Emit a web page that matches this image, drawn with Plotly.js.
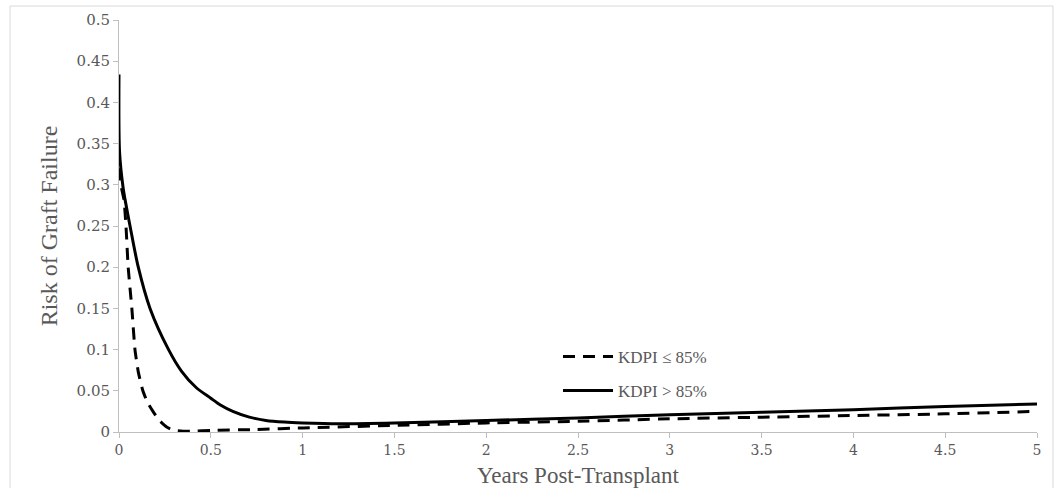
<!DOCTYPE html>
<html>
<head>
<meta charset="utf-8">
<script src="https://cdn.plot.ly/plotly-3.0.1.min.js"></script>
<style>html,body{margin:0;padding:0;background:#fff;}#chart{width:1057px;height:488px;}</style>
</head>
<body>
<div id="chart"></div>
<script>
// Years post-transplant and risk values
const lowYears = [0, 0.01, 0.027, 0.038, 0.05, 0.07, 0.087, 0.105, 0.13, 0.155, 0.185, 0.22, 0.26, 0.3, 0.35, 0.4, 0.5, 0.75, 1, 1.5, 2, 2.5, 3, 3.5, 4, 4.5, 5];
const lowRisk = [0.32, 0.30, 0.282, 0.25, 0.2, 0.15, 0.1, 0.073, 0.05, 0.036, 0.025, 0.014, 0.006, 0.002, 0.001, 0.001, 0.002, 0.003, 0.005, 0.008, 0.011, 0.013, 0.016, 0.018, 0.020, 0.022, 0.025];
const highYears = [0, 0.003, 0.022, 0.033, 0.06, 0.105, 0.169, 0.27, 0.34, 0.42, 0.5, 0.55, 0.62, 0.71, 0.8, 0.9, 1.0, 1.2, 1.5, 2, 2.5, 3, 3.5, 4, 4.5, 5];
const highRisk = [0.434, 0.34, 0.297, 0.282, 0.25, 0.2, 0.15, 0.1, 0.074, 0.054, 0.041, 0.033, 0.025, 0.018, 0.014, 0.012, 0.011, 0.010, 0.011, 0.014, 0.017, 0.021, 0.024, 0.027, 0.031, 0.034];
const seriesNames = ['KDPI ≤ 85%', 'KDPI > 85%'];
const xTicks = [0, 0.5, 1, 1.5, 2, 2.5, 3, 3.5, 4, 4.5, 5];
const yTicks = [0, 0.05, 0.1, 0.15, 0.2, 0.25, 0.3, 0.35, 0.4, 0.45, 0.5];

const titleFam = 'Liberation Serif, DejaVu Serif, serif';
const tickFam = 'DejaVu Serif, Liberation Serif, serif';
const grey = '#595959';

const traces = [
  {x: lowYears, y: lowRisk, name: seriesNames[0], mode: 'lines', type: 'scatter',
   line: {color: '#000', width: 3, dash: '12px,8px', shape: 'spline', smoothing: 0.5}, legend: 'legend'},
  {x: highYears, y: highRisk, name: seriesNames[1], mode: 'lines', type: 'scatter',
   line: {color: '#000', width: 3, shape: 'spline', smoothing: 0.8}, legend: 'legend2'}
];

const W = 918, H = 412;
const legendFont = {family: titleFam, size: 17, color: grey};
const layout = {
  width: 1057, height: 488,
  margin: {l: 119, r: 20, t: 20, b: 56},
  paper_bgcolor: '#fff', plot_bgcolor: '#fff',
  font: {family: titleFam, color: grey, size: 14},
  showlegend: true,
  xaxis: {
    range: [0, 5], tickvals: xTicks, ticktext: xTicks.map(String),
    showgrid: false, zeroline: false, showline: true, linecolor: '#bfbfbf', linewidth: 1,
    ticks: 'outside', ticklen: 5, tickcolor: '#bfbfbf',
    tickfont: {family: tickFam, size: 14, color: grey},
    title: {text: 'Years Post-Transplant', font: {family: titleFam, size: 23, color: grey}, standoff: 11}
  },
  yaxis: {
    range: [0, 0.5], tickvals: yTicks, ticktext: yTicks.map(String),
    showgrid: false, zeroline: false, showline: true, linecolor: '#bfbfbf', linewidth: 1,
    ticks: 'outside', ticklen: 5, tickcolor: '#bfbfbf',
    tickfont: {family: tickFam, size: 15, color: grey},
    title: {text: 'Risk of Graft Failure', font: {family: titleFam, size: 24, color: grey}, standoff: 12}
  },
  legend: {x: (558 - 119) / W, y: (432 - 339) / H, xanchor: 'left', yanchor: 'top',
    bgcolor: 'rgba(0,0,0,0)', font: legendFont, itemwidth: 50},
  legend2: {x: (558 - 119) / W, y: (432 - 373) / H, xanchor: 'left', yanchor: 'top',
    bgcolor: 'rgba(0,0,0,0)', font: legendFont, itemwidth: 50},
  shapes: [{type: 'rect', xref: 'paper', yref: 'paper',
    x0: (10 - 119) / W, x1: (1053 - 119) / W, y0: (432 - 500) / H, y1: (432 - 6) / H,
    line: {color: '#d9d9d9', width: 1}, fillcolor: 'rgba(0,0,0,0)', layer: 'below'}]
};

Plotly.newPlot('chart', traces, layout, {displayModeBar: false, staticPlot: true});
</script>
</body>
</html>
